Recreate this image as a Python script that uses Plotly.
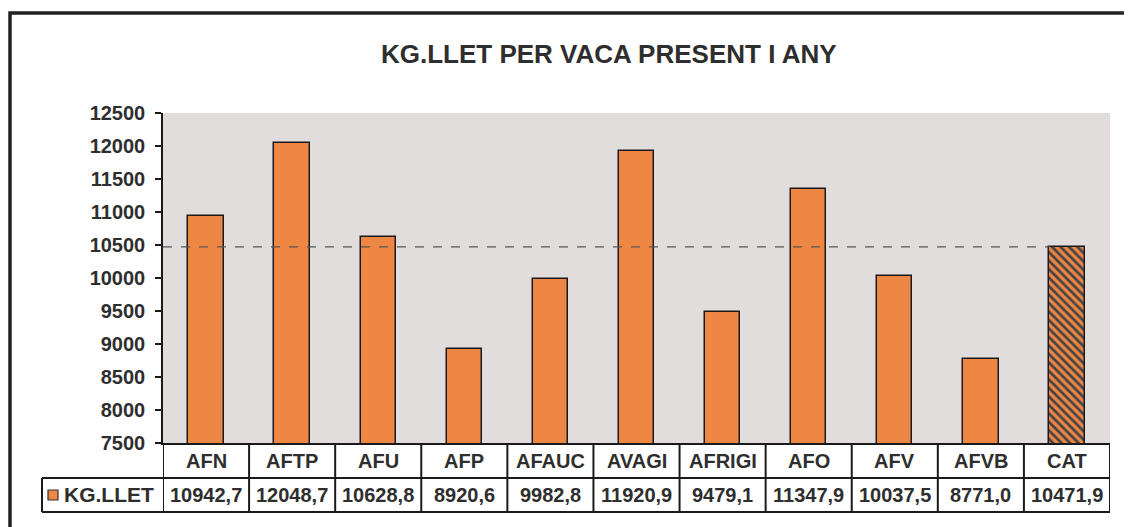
import plotly.graph_objects as go

categories = ["AFN", "AFTP", "AFU", "AFP", "AFAUC", "AVAGI", "AFRIGI", "AFO", "AFV", "AFVB", "CAT"]
values = [10942.7, 12048.7, 10628.8, 8920.6, 9982.8, 11920.9, 9479.1, 11347.9, 10037.5, 8771.0, 10471.9]
value_labels = ["10942,7", "12048,7", "10628,8", "8920,6", "9982,8", "11920,9", "9479,1", "11347,9", "10037,5", "8771,0", "10471,9"]
series_name = "KG.LLET"
title_text = "KG.LLET PER VACA PRESENT I ANY"
y_ticks = [7500, 8000, 8500, 9000, 9500, 10000, 10500, 11000, 11500, 12000, 12500]

OFF = 8  # page body margin of the browser
W, H = 1132 - OFF, 527 - OFF
PL, PR, PT, PB = 163 - OFF, 1110 - OFF, 113 - OFF, 443 - OFF   # plot area in pixels
pw, ph = PR - PL, PB - PT

def px_x(px):
    return (px - OFF - PL) / pw

def px_y(py):
    return (PB - (py - OFF)) / ph

ORANGE = "#EE8644"
DARK = "#1a1a1a"
TXT = "#2e2e2e"
FONT = "Liberation Sans"
BAR_W = 0.41

n = len(categories)
colors = [ORANGE] * n
shapes_pat = [""] * (n - 1) + ["\\"]

fig = go.Figure()
fig.add_trace(go.Bar(
    x=list(range(n)), y=values, width=BAR_W,
    marker=dict(color=colors, line=dict(color=DARK, width=1.5),
                pattern=dict(shape=shapes_pat, fgcolor="#2a170c", fgopacity=1,
                             size=6, solidity=0.45, fillmode="overlay")),
    showlegend=False, hoverinfo="x+y",
))

shapes = []
# average dashed line
shapes.append(dict(type="line", xref="x", yref="y", x0=-0.5, x1=(n - 1) - BAR_W / 2,
                   y0=values[-1], y1=values[-1],
                   line=dict(color="#555555", width=1.3, dash="dash"), layer="above"))

# table lines
row1 = px_y(478)
row2 = px_y(512)
for i in range(n + 1):
    shapes.append(dict(type="line", xref="x", yref="paper", x0=i - 0.5, x1=i - 0.5,
                       y0=0, y1=row2, line=dict(color=DARK, width=2)))
shapes.append(dict(type="line", xref="paper", yref="paper", x0=px_x(42), x1=px_x(42),
                   y0=row1, y1=row2, line=dict(color=DARK, width=2)))
for yy in (row1, row2):
    shapes.append(dict(type="line", xref="paper", yref="paper", x0=px_x(42), x1=1,
                       y0=yy, y1=yy, line=dict(color=DARK, width=2)))
# legend key
shapes.append(dict(type="rect", xref="paper", yref="paper", x0=px_x(48), x1=px_x(58),
                   y0=px_y(500), y1=px_y(490), fillcolor=ORANGE,
                   line=dict(color="#333333", width=1.2)))
# outer frame
shapes.append(dict(type="rect", xref="paper", yref="paper", x0=px_x(10), x1=px_x(1150),
                   y0=px_y(550), y1=px_y(13), line=dict(color="#222222", width=3.5)))

annotations = []
for i, (c, v) in enumerate(zip(categories, value_labels)):
    annotations.append(dict(x=i, y=px_y(461), xref="x", yref="paper", text="<b>" + c + "</b>",
                            showarrow=False, font=dict(family=FONT, size=20, color=TXT),
                            xanchor="center", yanchor="middle"))
    annotations.append(dict(x=i, y=px_y(495), xref="x", yref="paper", text="<b>" + v + "</b>",
                            showarrow=False, font=dict(family=FONT, size=20, color=TXT),
                            xanchor="center", yanchor="middle"))
annotations.append(dict(x=px_x(62), y=px_y(495), xref="paper", yref="paper",
                        text="<b>" + series_name + "</b>", showarrow=False,
                        font=dict(family=FONT, size=21, color=TXT),
                        xanchor="left", yanchor="middle"))
annotations.append(dict(x=px_x(609), y=px_y(54), xref="paper", yref="paper",
                        text="<b>" + title_text + "</b>", showarrow=False,
                        font=dict(family=FONT, size=26, color=TXT),
                        xanchor="center", yanchor="middle"))

fig.update_layout(
    width=W, height=H,
    margin=dict(l=PL, r=W - PR, t=PT, b=H - PB, pad=0),
    paper_bgcolor="white", plot_bgcolor="#e0dddc",
    shapes=shapes, annotations=annotations,
    bargap=0,
    xaxis=dict(range=[-0.5, n - 0.5], showticklabels=False, showgrid=False, zeroline=False,
               showline=True, linecolor=DARK, linewidth=2, ticks=""),
    yaxis=dict(range=[7500, 12500], tickvals=y_ticks, ticktext=[f"<b>{t}</b>" for t in y_ticks],
               showgrid=False, zeroline=False, showline=True, linecolor=DARK, linewidth=1.5,
               ticks="outside", ticklen=6, tickwidth=1.5, tickcolor=DARK,
               tickfont=dict(family=FONT, size=20, color=TXT), ticklabelstandoff=6),
)

fig.write_html("out.html")
